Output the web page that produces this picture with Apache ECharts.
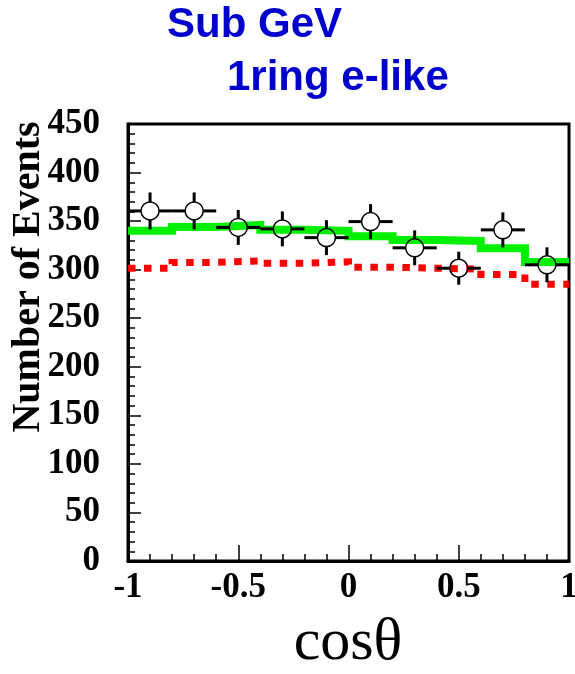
<!DOCTYPE html>
<html>
<head>
<meta charset="utf-8">
<script src="https://cdn.jsdelivr.net/npm/echarts@6/dist/echarts.min.js"></script>
<style>
  html, body { margin: 0; padding: 0; background: #fff; }
  #chart { width: 575px; height: 674px; }
</style>
</head>
<body>
<div id="chart"></div>
<script>
// Bin edges in cos(theta)
const binEdges = [-1, -0.8, -0.6, -0.4, -0.2, 0, 0.2, 0.4, 0.6, 0.8, 1];
// Data points: bin centres, event counts and statistical errors
const dataX = [-0.9, -0.7, -0.5, -0.3, -0.1, 0.1, 0.3, 0.5, 0.7, 0.9];
const dataY = [360.5, 360.5, 343.5, 342, 333, 349.5, 322.5, 301.5, 341, 305];
const dataErr = [19, 19, 18, 18, 18, 18, 18, 17, 18, 18];
// Monte Carlo expectations per bin
const mcOscillated = [340, 344, 346, 341, 340, 334.5, 330.5, 329.5, 322, 308];
const mcNoOsc = [301.5, 307.5, 309, 306.5, 308, 302.5, 301.5, 300.5, 295, 285];
// Axis ticks
const yTicks = [0, 50, 100, 150, 200, 250, 300, 350, 400, 450];
const xTicks = [-1, -0.5, 0, 0.5, 1];

// Step histogram: each value holds from its lower edge to the next edge
function stepData(values) {
  const pts = values.map((v, i) => [binEdges[i], v]);
  pts.push([binEdges[binEdges.length - 1], values[values.length - 1]]);
  return pts;
}

const chart = echarts.init(document.getElementById('chart'), null, { renderer: 'canvas' });

const tickFont = {
  fontFamily: '"Liberation Serif", "Times New Roman", serif',
  fontWeight: 'bold',
  fontSize: 35,
  color: '#000'
};

const option = {
  backgroundColor: '#fff',
  animation: false,
  grid: {
    left: 128, right: 6, top: 124, bottom: 113,
    outerBoundsMode: 'none',
    containLabel: false,
    show: true, borderColor: '#000', borderWidth: 3, backgroundColor: 'transparent'
  },
  xAxis: {
    type: 'value',
    min: xTicks[0], max: xTicks[xTicks.length - 1], interval: 0.5,
    axisLine: { show: true, onZero: false, lineStyle: { color: '#000', width: 3 } },
    axisTick: { show: true, inside: true, length: 16, lineStyle: { color: '#000', width: 1.5 } },
    minorTick: { show: true, splitNumber: 5, length: 7, lineStyle: { color: '#000', width: 1.5 } },
    splitLine: { show: false },
    axisLabel: Object.assign({ margin: 9, formatter: v => String(v), hideOverlap: false }, tickFont)
  },
  yAxis: {
    type: 'value',
    min: yTicks[0], max: yTicks[yTicks.length - 1], interval: 50,
    axisLine: { show: true, onZero: false, lineStyle: { color: '#000', width: 3 } },
    axisTick: { show: true, inside: true, length: 13, lineStyle: { color: '#000', width: 1.5 } },
    minorTick: { show: true, splitNumber: 5, length: 7, lineStyle: { color: '#000', width: 1.5 } },
    splitLine: { show: false },
    axisLabel: Object.assign({ margin: 28, hideOverlap: false }, tickFont)
  },
  graphic: [
    {
      type: 'text', x: 167, y: 25,
      style: {
        text: 'Sub GeV', fill: '#0000cc',
        font: 'bold 42px "Liberation Sans", Arial, sans-serif',
        align: 'left', verticalAlign: 'middle'
      }
    },
    {
      type: 'text', x: 227, y: 78,
      style: {
        text: '1ring e-like', fill: '#0000cc',
        font: 'bold 42px "Liberation Sans", Arial, sans-serif',
        align: 'left', verticalAlign: 'middle'
      }
    },
    {
      type: 'text', x: 29, y: 277, rotation: Math.PI / 2,
      style: {
        text: 'Number of Events', fill: '#000',
        font: 'bold 40px "Liberation Serif", "Times New Roman", serif',
        align: 'center', verticalAlign: 'middle'
      }
    },
    {
      type: 'text', x: 348, y: 643,
      style: {
        text: 'cos\u03B8', fill: '#000',
        font: '60px "Liberation Serif", "Times New Roman", serif',
        align: 'center', verticalAlign: 'middle'
      }
    }
  ],
  series: [
    {
      name: 'oscillated',
      type: 'line', step: 'end', symbol: 'none',
      data: stepData(mcOscillated),
      lineStyle: { color: '#00f000', width: 8, cap: 'butt', join: 'miter' },
      z: 2
    },
    {
      name: 'no oscillation',
      type: 'line', step: 'end', symbol: 'none',
      data: stepData(mcNoOsc),
      lineStyle: { color: '#ff0000', width: 7, type: [7.5, 8.5], cap: 'butt', join: 'miter' },
      z: 3
    },
    {
      name: 'data',
      type: 'custom',
      z: 4,
      data: dataX.map((x, i) => [x, dataY[i], dataErr[i], (binEdges[i + 1] - binEdges[i]) / 2]),
      renderItem: function (params, api) {
        const x = api.value(0), y = api.value(1), e = api.value(2), hw = api.value(3);
        const c = api.coord([x, y]);
        const l = api.coord([x - hw, y]);
        const r = api.coord([x + hw, y]);
        const t = api.coord([x, y + e]);
        const b = api.coord([x, y - e]);
        const R = 9;
        const ls = { stroke: '#000', lineWidth: 3 };
        return {
          type: 'group',
          children: [
            { type: 'line', shape: { x1: l[0], y1: c[1], x2: c[0] - R, y2: c[1] }, style: ls },
            { type: 'line', shape: { x1: c[0] + R, y1: c[1], x2: r[0], y2: c[1] }, style: ls },
            { type: 'line', shape: { x1: c[0], y1: t[1], x2: c[0], y2: c[1] - R }, style: ls },
            { type: 'line', shape: { x1: c[0], y1: c[1] + R, x2: c[0], y2: b[1] }, style: ls },
            { type: 'circle', shape: { cx: c[0], cy: c[1], r: R }, style: { fill: 'none', stroke: '#000', lineWidth: 1.5 } }
          ]
        };
      }
    }
  ]
};

chart.setOption(option);
</script>
</body>
</html>
